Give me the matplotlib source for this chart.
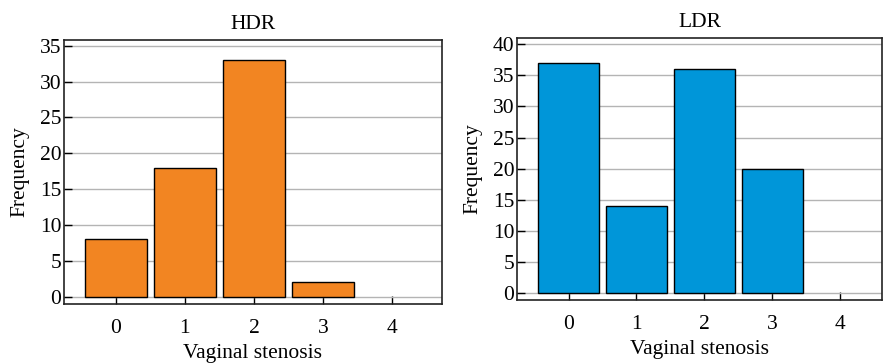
import matplotlib
matplotlib.use("Agg")
import matplotlib.pyplot as plt

plt.rcParams['font.family'] = ['Liberation Serif', 'DejaVu Serif']

categories = [0, 1, 2, 3, 4]
hdr_values = [8, 18, 33, 2, 0]
ldr_values = [37, 14, 36, 20, 0]
hdr_yticks = [0, 5, 10, 15, 20, 25, 30, 35]
ldr_yticks = [0, 5, 10, 15, 20, 25, 30, 35, 40]

FS = 15.5

fig = plt.figure(figsize=(8.83, 3.64), dpi=100)
ax1 = fig.add_axes([64/883, 1-304/364, (442-64)/883, (304-40)/364])
ax2 = fig.add_axes([517/883, 1-300/364, (882-517)/883, (300-38)/364])

def style(ax, title, values, color, yticks, ylim, xlim):
    ax.set_axisbelow(True)
    ax.yaxis.grid(True, color='#b4b4b4', lw=1.0)
    xs = [c for c, v in zip(categories, values) if v > 0]
    vs = [v for v in values if v > 0]
    ax.bar(xs, vs, width=0.9, color=color, edgecolor='black', lw=1.0, zorder=3)
    ax.set_xlim(*xlim)
    ax.set_ylim(*ylim)
    ax.set_xticks(categories)
    ax.set_yticks(yticks)
    ax.tick_params(axis='both', direction='in', length=6, width=1, labelsize=FS)
    ax.tick_params(axis='x', pad=11)
    ax.tick_params(axis='y', pad=2)
    ax.set_title(title, fontsize=FS, pad=8)
    ax.set_xlabel('Vaginal stenosis', fontsize=FS, labelpad=4)
    ax.set_ylabel('Frequency', fontsize=FS, labelpad=7)
    for s in ax.spines.values():
        s.set_linewidth(1.2)
        s.set_color('#222222')

style(ax1, 'HDR', hdr_values, '#F28522', hdr_yticks, (-1.0, 35.8), (-0.75, 4.72))
style(ax2, 'LDR', ldr_values, '#0096D9', ldr_yticks, (-1.1, 41.0), (-0.76, 4.62))

fig.savefig('out.png', dpi=100)
